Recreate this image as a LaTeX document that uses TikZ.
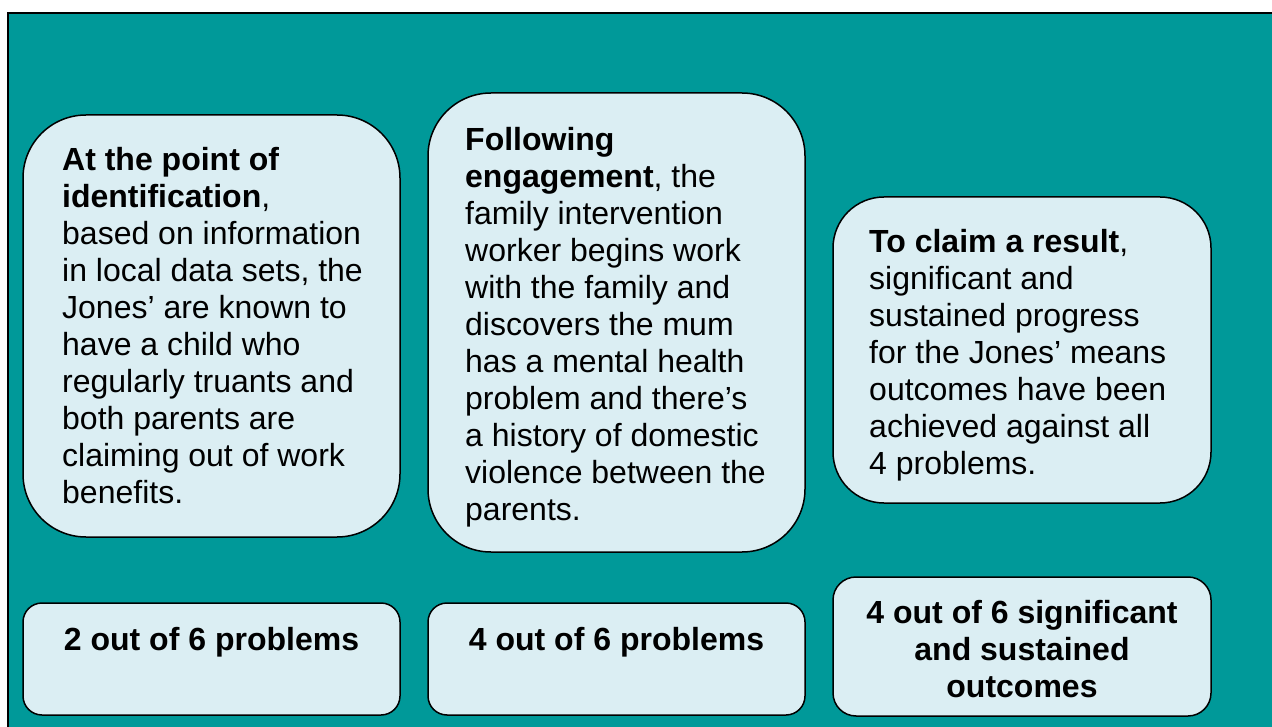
\documentclass[tikz,border=0pt]{standalone}
\usepackage{fontspec}
\setmainfont{Liberation Sans}
\definecolor{frameteal}{RGB}{0,153,153}
\definecolor{boxblue}{RGB}{219,238,243}

\begin{document}
\begin{tikzpicture}[x=1pt,y=-1pt,inner sep=0pt,
  box/.style={draw=black,line width=1.5pt,fill=boxblue},
  body/.style={anchor=north west,align=left,font=\fontsize{32}{37}\selectfont},
  tally/.style={anchor=north,align=center,font=\fontsize{32}{37}\selectfont\bfseries}]
\useasboundingbox (0,0) rectangle (1272,727);
\clip (0,0) rectangle (1272,727);
\draw[line width=2.5pt,fill=frameteal] (8,13) rectangle (1290,745);

\node[box,minimum width=377pt,minimum height=422pt,rounded corners=63pt] (b1) at (211.5,326) {};
\node[box,minimum width=377pt,minimum height=459pt,rounded corners=63pt] (b2) at (616.5,322.5) {};
\node[box,minimum width=378pt,minimum height=306pt,rounded corners=51pt] (b3) at (1022,350) {};

\node[box,minimum width=377pt,minimum height=112pt,rounded corners=19pt] (r1) at (211.5,659) {};
\node[box,minimum width=377pt,minimum height=112pt,rounded corners=19pt] (r2) at (616.5,659) {};
\node[box,minimum width=378pt,minimum height=139pt,rounded corners=23pt] (r3) at (1022,646.5) {};

\node[body] (t1) at (62,147) {\textbf{At the point of}\\\textbf{identification},\\based on information\\in local data sets, the\\Jones’ are known to\\have a child who\\regularly truants and\\both parents are\\claiming out of work\\benefits.};
\node[body] (t2) at (465,127) {\textbf{Following}\\\textbf{engagement}, the\\family intervention\\worker begins work\\with the family and\\discovers the mum\\has a mental health\\problem and there’s\\a history of domestic\\violence between the\\parents.};
\node[body] (t3) at (869,229) {\textbf{To claim a result},\\significant and\\sustained progress\\for the Jones’ means\\outcomes have been\\achieved against all\\4 problems.};

\node[tally] (s1) at (211.5,627) {2 out of 6 problems};
\node[tally] (s2) at (616.5,627) {4 out of 6 problems};
\node[tally] (s3) at (1022,600) {4 out of 6 significant\\and sustained\\outcomes};
\end{tikzpicture}
\end{document}
